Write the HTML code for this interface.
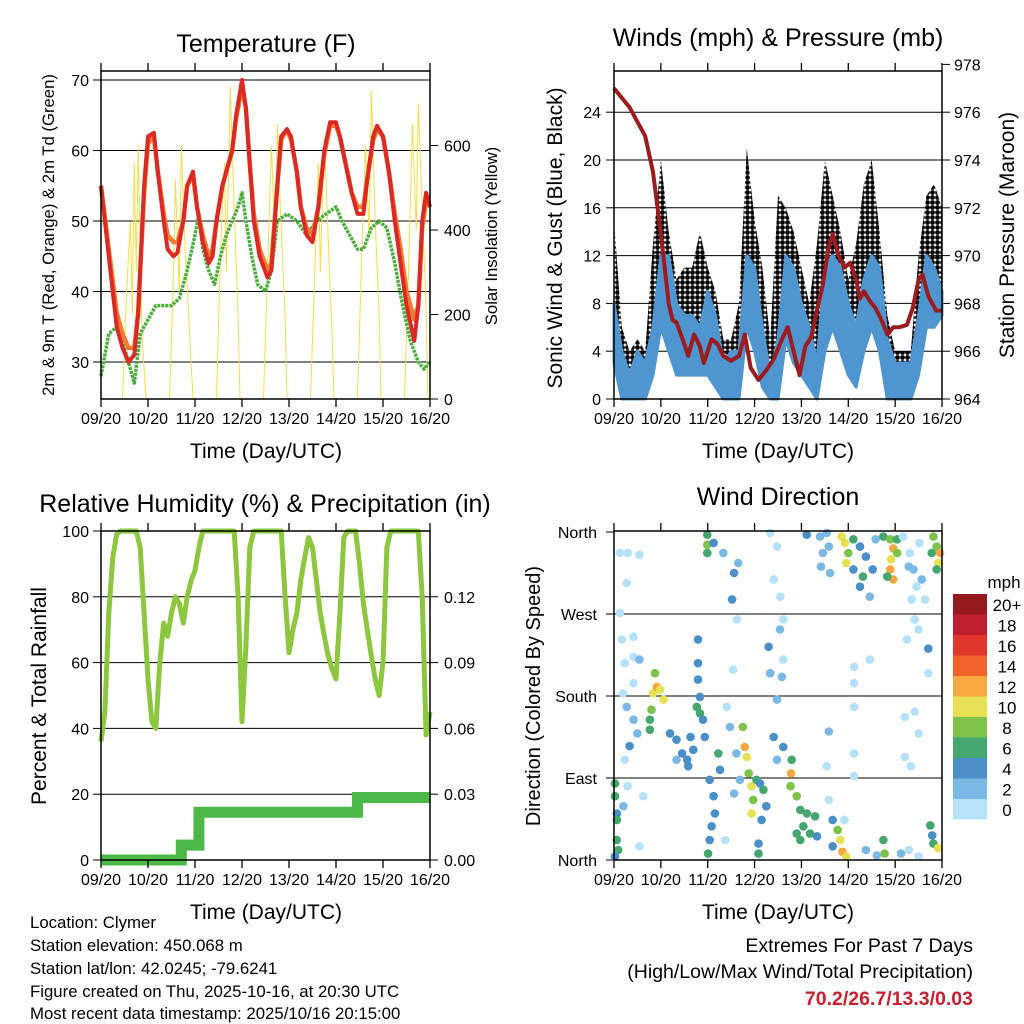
<!DOCTYPE html>
<html><head><meta charset="utf-8"><style>
html,body{margin:0;padding:0;background:#fff;}
svg{display:block;font-family:"Liberation Sans",Arial,sans-serif;}
</style></head><body>
<svg id="chart" width="1024" height="1024" viewBox="0 0 1024 1024" xmlns="http://www.w3.org/2000/svg">
<defs>
<pattern id="dots" width="5" height="5" patternUnits="userSpaceOnUse"><circle cx="2.5" cy="2.5" r="2.4" fill="#000"/></pattern>
</defs>
<rect width="1024" height="1024" fill="#fff"/>
<g id="static" font-size="14" fill="#000">
<text x="266" y="52" font-size="25" text-anchor="middle">Temperature (F)</text>
<text x="778" y="46" font-size="25" text-anchor="middle">Winds (mph) &amp; Pressure (mb)</text>
<text x="265" y="512" font-size="25" text-anchor="middle">Relative Humidity (%) &amp; Precipitation (in)</text>
<text x="778" y="505" font-size="25" text-anchor="middle">Wind Direction</text>
<text x="266" y="458" font-size="21" text-anchor="middle">Time (Day/UTC)</text>
<text x="778" y="458" font-size="21" text-anchor="middle">Time (Day/UTC)</text>
<text x="266" y="919" font-size="21" text-anchor="middle">Time (Day/UTC)</text>
<text x="778" y="919" font-size="21" text-anchor="middle">Time (Day/UTC)</text>
<text transform="translate(54,235) rotate(-90)" font-size="16.7" text-anchor="middle">2m &amp; 9m T (Red, Orange) &amp; 2m Td (Green)</text>
<text transform="translate(497,236) rotate(-90)" font-size="16.7" text-anchor="middle">Solar Insolation (Yellow)</text>
<text transform="translate(562,238) rotate(-90)" font-size="21" text-anchor="middle">Sonic Wind &amp; Gust (Blue, Black)</text>
<text transform="translate(1014,235) rotate(-90)" font-size="21" text-anchor="middle">Station Pressure (Maroon)</text>
<text transform="translate(46,696) rotate(-90)" font-size="21" text-anchor="middle">Percent &amp; Total Rainfall</text>
<text transform="translate(540,696) rotate(-90)" font-size="20" text-anchor="middle">Direction (Colored By Speed)</text>
<g font-size="16.8">
<text x="30" y="928">Location: Clymer</text>
<text x="30" y="951">Station elevation: 450.068 m</text>
<text x="30" y="974">Station lat/lon: 42.0245; -79.6241</text>
<text x="30" y="997">Figure created on Thu, 2025-10-16, at 20:30 UTC</text>
<text x="30" y="1019">Most recent data timestamp: 2025/10/16 20:15:00</text>
</g>
<g font-size="19.5" text-anchor="end">
<text x="973" y="952">Extremes For Past 7 Days</text>
<text x="973" y="978">(High/Low/Max Wind/Total Precipitation)</text>
<text x="973" y="1005" font-weight="bold" fill="#c8202f">70.2/26.7/13.3/0.03</text>
</g>
<text x="1004" y="588" font-size="17" text-anchor="middle">mph</text>
</g>
<g id="dyn"></g>
</svg>
<script>
// ---------- DATA ----------
var dayLabels = ["09/20","10/20","11/20","12/20","13/20","14/20","15/20","16/20"];
var tempTicks = [30,40,50,60,70];
var solarTicks = [0,200,400,600];
var windTicks = [0,4,8,12,16,20,24];
var presTicks = [964,966,968,970,972,974,976,978];
var rhTicks = [0,20,40,60,80,100];
var precipTicks = ["0.00","0.03","0.06","0.09","0.12"];
var dirLabels = ["North","East","South","West","North"];
var speedLabels = ["0","2","4","6","8","10","12","14","16","18","20+"];
var speedColors = ["#b5e2f8","#7bb9e4","#4a8fc8","#45a66f","#7cc24b","#e6e052","#f7a843","#f1632b","#e0362b","#be1e2d","#951a1d"];

var tHours = [0,4,8,11,14,17,19,22,24,27,29,32,34,37,39,42,44,47,49,52,55,57,59,62,64,67,69,72,74,76,78,81,85,87,90,92,95,97,100,102,105,108,111,114,117,120,122,125,128,131,134,136,139,141,144,147,150,153,156,160,162,164,166,168];
var temp2m = [55,45,35,32,30,31,37,55,62,62.5,57,50,46,45,45.5,50,55,57,52,47,44,45,50,55,57,60,65,70,66,58,50,45,42,43,55,62,63,62,57,52,48,47,52,60,64,64,62,58,54,51,51,56,62,63.5,62,57,50,44,38,33,38,50,54,52];
var temp9m = [55,46,37,34,32,32,37,54,61,62,57,51,48,47,47,50,55,56.5,52,48,45,46,50,55,57,60,64.5,69,66,58,51,46,43,44,55,61.5,63,61.5,57,52,49,48,52,59.5,63.5,63.5,62,58,54,52,52,56,61.5,63,62,57,51,46,40,36,38,49,53,52];
var tdHours = [0,4,8,12,17,20,24,28,32,36,40,44,48,50,52,55,58,61,64,67,70,72,74,77,80,84,87,90,95,100,105,110,115,120,123,127,131,134,138,142,146,150,154,158,162,165,168];
var dewpoint = [28,34,35,32,27,34,36,38,38,38,39,43,48,51,46,43,41,45,48,50,52,54,50,45,41,40,43,50,51,50,48,50,51,52,50,48,46,46,49,50,49,44,38,33,30,29,30];
var solarHours = [11,13,15,16,17,18,19,21,23, 35,37,38,40,41,43,45,47, 59,61,63,64,66,68,70,71, 83,85,87,89,90,92,94,95, 107,109,111,112,114,116,118,119, 131,133,135,137,138,140,142,143, 155,157,159,161,162,164,166,167];
var solarVals =  [0,250,420,200,560,300,600,150,0, 0,300,520,250,600,350,180,0, 0,350,560,300,740,450,200,0, 0,300,600,350,650,400,200,0, 0,280,560,300,620,380,150,0, 0,320,600,380,730,420,200,0, 0,300,650,400,700,450,220,0];

var presHours = [0,4,8,12,16,20,24,28,30,32,36,38,41,44,46,50,53,56,60,64,67,70,74,78,82,86,89,92,95,98,101,104,107,110,112,115,118,121,124,126,128,131,134,137,140,143,146,150,153,156,158,161,165,168];
var pressure = [977,976.6,976.2,975.6,975,973.5,970.9,968,967.3,967.2,966.3,965.8,966.7,966.2,965.5,966.5,966.3,965.8,965.6,965.8,966.7,965.3,964.8,965.2,965.7,966.5,967,966,965,966.2,966.6,967.7,968.8,970.4,970.9,970,969.5,969.7,969,968.2,968.5,968.1,967.8,967.3,966.7,967,967,967.1,967.8,969,969.2,968.3,967.7,967.7];
var windHours = [0,4,8,12,16,20,24,28,32,36,40,44,48,52,56,60,64,68,72,76,80,84,88,92,96,100,104,108,112,116,120,124,128,132,136,140,144,148,152,156,160,164,168];
var sonicHi = [8,4,2,4,3,6,12,12,8,7,7,6,9,7,3,4,4,12,11,6,2,5,12,11,8,6,3,11,12,11,8,6,10,12,11,5,3,3,3,7,12,11,9];
var sonicLo = [3,0,0,0,0,2,6,4,2,2,2,2,2,1,0,0,0,6,4,1,0,0,5,3,2,1,0,4,6,4,2,1,4,6,4,0,0,0,0,2,6,6,7];
var gustHi = [15,6,4,5,4,13,20,14,10,11,11,14,11,9,5,5,8,21,15,11,5,17,16,14,11,8,13,20,17,14,10,13,18,20,14,7,4,4,4,12,17,18,16];

var rhHours = [0,2,4,6,8,10,18,20,22,24,26,28,30,32,34,36,38,40,42,44,46,48,50,52,68,70,72,74,76,78,92,94,96,98,100,102,104,106,108,110,112,114,116,118,120,122,124,126,130,132,134,136,138,140,142,144,146,148,162,164,166,168];
var rh = [36,45,75,92,99,100,100,95,75,55,42,40,60,72,68,75,80,78,72,80,85,88,95,100,100,80,42,65,95,100,100,80,63,70,75,85,92,98,95,85,75,68,62,58,55,75,98,100,100,90,78,70,62,55,50,60,95,100,100,80,38,45];
var precipHours = [0,41,41,50,50,131,131,168];
var precip = [0,0,0.0068,0.0068,0.0218,0.0218,0.0285,0.0285];

var dirHours = [0.5,0.5,1.5,1.5,1.4,2.2,0.5, 3,7,13,6.5,3,4,10,5.5,10,13,4.5,10,6.5,10,12,8,5.5,7,15,13,4.8,
 18.4,19.2,20,21.9,23.6,25.4,21,18.4, 28.7,32,34.9,37.5,39.2,40.6,38,32,
 43,43,43,44,42.4,44,45.6,46.5, 47.8,47.8,47.8,51,56, 49,51,51.7,50,49,48.2,53.4,54.3,
 57.7,61,63,60.5,61.5,63.6,59.4,62.7,64.5,61.5,57,
 66,67,68,69,70.5,71.3,70.5,73, 74.8,76.5,78,75.6,74,74,
 80,83.5,81.8,85.2,86.7,85,86.7,80,86,83.5,79.2,81.8,86.7,83.5,
 91,90.7,90.4, 93.6,95.4,97,98.8,100.4,95.4,103,104,93.6,
 112,114.6,115.8,117,119,112, 129,138,138.6,134.6,147,151,156,
 162,163.6,166,163,
 123,123,131,123,123,123,149,154,156,149,152,161,161,150,156,154,110,109,110,118,
 105.5,107,106,110,110.7,109,98.7,
 116.6,118.3,120,119,122.6, 122.6,126,129,127.5,132.5,134,131,126,
 138,141.5,143,142,141.5,143,140,145,145,
 148,151.5,153.4,155,152.5,157.6,159.3,151,156.4,
 163.6,165.3,167,162.7,166,165.3];
var dirDeg = [84,70,51,44,22,11,4, 337,337,335,304,271,242,245,216,223,220,183,194,168,154,139,125,110,81,70,15,59,
 154,165,183,190,187,176,205,143, 139,132,117,110,135,121,103,110,
 242,216,198,179,168,161,154,135, 357,346,337,348,337, 88,70,51,37,22,7,117,99,
 168,209,264,286,315,326,146,117,88,73,22,
 146,124,113,95,81,66,51,88, 84,77,59,44,18,7,
 359,344,308,289,264,253,220,205,201,176,234,135,124,110,
 110,95,81, 70,55,37,51,29,22,48,26,29,
 44,33,22,9,4,15, 11,22,7,5,7,11,4,
 38,18,13,27,
 212,194,220,168,117,92,157,163,139,113,103,205,232,242,253,264,141,103,66,44,
 355,337,322,344,315,359,357,
 355,348,337,326,352, 319,300,333,311,319,352,289,344,
 355,352,342,330,319,308,311,337,352,
 355,337,319,300,286,308,286,322,348,
 355,344,337,337,326,319];
var dirSpeed = [6,6,4,6,6,6,4, 0,0,0,0,0,0,0,0,0,2,0,0,2,2,2,4,0,0,0,0,2,
 6,8,10,12,10,10,8,6, 4,4,4,4,4,4,4,2,
 4,4,4,4,6,6,4,4, 6,8,6,4,2, 4,4,4,4,4,6,6,4,
 0,0,0,4,4,2,2,2,2,2,0,
 8,12,10,8,10,8,10,6, 4,6,4,4,4,6,
 0,0,0,0,0,2,0,2,2,2,4,4,4,2,
 6,12,8, 8,6,6,6,6,6,6,4,6,
 4,8,10,12,10,4, 2,6,8,2,2,0,0,
 6,6,10,4,
 0,0,0,0,0,0,0,0,0,0,0,0,4,0,0,0,2,0,0,0,
 2,2,2,2,2,2,4,
 10,10,8,10,6, 4,4,4,6,4,2,2,4,
 6,8,12,10,12,12,6,8,6,
 0,0,2,0,0,2,0,2,0,
 8,8,12,6,10,6];

// ---------- SCALES ----------
var TL = 101, TR = 430;
function xT(h){return TL + h*(TR-TL)/168;}
function yT(v){return 80 + (70-v)*7.05;}
function yS(v){return 399 - v*0.4225;}
function xW(h){return 614 + h*328/168;}
function yW(v){return 399 - v*11.95;}
function yP(p){return 399 - (p-964)*23.9;}
function yR(v){return 860 - v*3.29;}
function yPr(v){return 860 - v*(20/0.03)*3.29;}
function yD(d){return 860 - d*328/360;}

var NS = "http://www.w3.org/2000/svg";
var root = document.getElementById("dyn");
function mk(tag, attrs, parent){
  var e = document.createElementNS(NS, tag);
  for (var k in attrs) e.setAttribute(k, attrs[k]);
  (parent||root).appendChild(e);
  return e;
}
function txt(s, x, y, anchor, size, parent){
  var t = mk("text", {x:x, y:y, "text-anchor":anchor, "font-size":size}, parent);
  t.textContent = s;
  return t;
}
function pts(hs, vs, fx, fy){
  var a=[]; for (var i=0;i<hs.length;i++) a.push(fx(hs[i]).toFixed(1)+","+fy(vs[i]).toFixed(1)); return a.join(" ");
}
function gridY(x0,x1,y,parent){
  var l = mk("line",{x1:x0,x2:x1,y1:y,y2:y,stroke:"#000","stroke-width":1},parent);
  
  
}
function frame(x0,y0,x1,y1,name){
  var g = mk("g",{});
  
  
  mk("rect",{x:x0,y:y0,width:x1-x0,height:y1-y0,fill:"none",stroke:"#000","stroke-width":1.5},g);
  for (var i=0;i<dayLabels.length;i++){
    var x = x0 + i*(x1-x0)/7;
    mk("line",{x1:x,x2:x,y1:y1,y2:y1+8,stroke:"#000","stroke-width":1.3},g);
    mk("line",{x1:x,x2:x,y1:y0,y2:y0-8,stroke:"#000","stroke-width":1.3},g);
    var t = txt(dayLabels[i], x, y1+25, "middle", 16, g);
    
    
  }
  return g;
}

// ---------- TEMPERATURE PANEL ----------
var gT = mk("g",{});


tempTicks.forEach(function(v){
  gridY(TL,TR,yT(v),gT);
  mk("line",{x1:TL-8,x2:TL,y1:yT(v),y2:yT(v),stroke:"#000"},gT);
  var t = txt(String(v), TL-12, yT(v)+6, "end", 16, gT);
  
  
});
solarTicks.forEach(function(v){
  mk("line",{x1:TR,x2:TR+8,y1:yS(v),y2:yS(v),stroke:"#000"},gT);
  var t = txt(String(v), TR+14, yS(v)+6, "start", 16, gT);
  
  
});
var solarLine = mk("polyline",{points:pts(solarHours,solarVals,xT,yS),fill:"none",stroke:"#f7dc4a","stroke-width":1},gT);


var tdLine = mk("polyline",{points:pts(tdHours,dewpoint,xT,yT),fill:"none",stroke:"#4cae3c","stroke-width":3.5,"stroke-dasharray":"3 1","stroke-linejoin":"round"},gT);


var t9Line = mk("polyline",{points:pts(tHours,temp9m,xT,yT),fill:"none",stroke:"#f47a30","stroke-width":4.5,"stroke-linejoin":"round"},gT);


var t2Line = mk("polyline",{points:pts(tHours,temp2m,xT,yT),fill:"none",stroke:"#d92a26","stroke-width":4,"stroke-linejoin":"round"},gT);


frame(TL,71,TR,399,"temperature-frame");

// ---------- WIND PANEL ----------
var gW = mk("g",{});


windTicks.forEach(function(v){
  if (v>0) gridY(614,942,yW(v),gW);
  mk("line",{x1:606,x2:614,y1:yW(v),y2:yW(v),stroke:"#000"},gW);
  var t = txt(String(v), 601, yW(v)+6, "end", 16, gW);
  
  
});
presTicks.forEach(function(v){
  mk("line",{x1:942,x2:950,y1:yP(v),y2:yP(v),stroke:"#000"},gW);
  var t = txt(String(v), 954, yP(v)+6, "start", 16, gW);
  
  
});
var gustPts = pts(windHours,gustHi,xW,yW) + " " + pts(windHours.slice().reverse(), sonicLo.slice().reverse(), xW, yW);
var gustBand = mk("polygon",{points:gustPts,fill:"url(#dots)",stroke:"none"},gW);


var sonicPts = pts(windHours,sonicHi,xW,yW) + " " + pts(windHours.slice().reverse(), sonicLo.slice().reverse(), xW, yW);
var sonicBand = mk("polygon",{points:sonicPts,fill:"#4f95d0",stroke:"#4f95d0","stroke-width":3,"stroke-linejoin":"round"},gW);


var presLine = mk("polyline",{points:pts(presHours,pressure,xW,yP),fill:"none",stroke:"#9b1b1f","stroke-width":4,"stroke-linejoin":"round"},gW);


frame(614,71,942,399,"wind-frame");

// ---------- RH PANEL ----------
var gR = mk("g",{});


rhTicks.forEach(function(v){
  if (v>0 && v<100) gridY(TL,TR,yR(v),gR);
  mk("line",{x1:TL-8,x2:TL,y1:yR(v),y2:yR(v),stroke:"#000"},gR);
  var t = txt(String(v), TL-12, yR(v)+6, "end", 16, gR);
  
  
});
precipTicks.forEach(function(s){
  var y = yPr(parseFloat(s));
  mk("line",{x1:TR,x2:TR+8,y1:y,y2:y,stroke:"#000"},gR);
  var t = txt(s, TR+14, y+6, "start", 16, gR);
  
  
});
var prLine = mk("polyline",{points:pts(precipHours,precip,xT,yPr),fill:"none",stroke:"#4cb848","stroke-width":11},gR);


var rhLine = mk("polyline",{points:pts(rhHours,rh,xT,yR),fill:"none",stroke:"#8dc63f","stroke-width":5,"stroke-linejoin":"round"},gR);


frame(TL,531,TR,860,"humidity-frame");

// ---------- WIND DIRECTION PANEL ----------
var gD = mk("g",{});


dirLabels.forEach(function(s,i){
  var y = yD(i*90);
  if (i>0 && i<4) gridY(614,942,y,gD);
  mk("line",{x1:606,x2:614,y1:y,y2:y,stroke:"#000"},gD);
  var t = txt(s, 597, y+6, "end", 16, gD);
  
  
});
for (var i=0;i<dirHours.length;i++){
  var ci = Math.min(10, Math.floor(dirSpeed[i]/2));
  var c = mk("circle",{cx:xW(dirHours[i]).toFixed(1),cy:yD(dirDeg[i]).toFixed(1),r:4.3,fill:speedColors[ci]},gD);
  
  
}
frame(614,531,942,860,"wind-direction-frame");

// legend
var gL = mk("g",{});


for (var k=0;k<speedLabels.length;k++){
  var idx = speedLabels.length-1-k;
  var y0 = 594 + k*20.5;
  var r = mk("rect",{x:953,y:y0,width:34,height:20.5,fill:speedColors[idx]},gL);
  
  
  var t = txt(speedLabels[idx], 1007, y0+17, "middle", 17, gL);
  
  
}
</script>
</body></html>
